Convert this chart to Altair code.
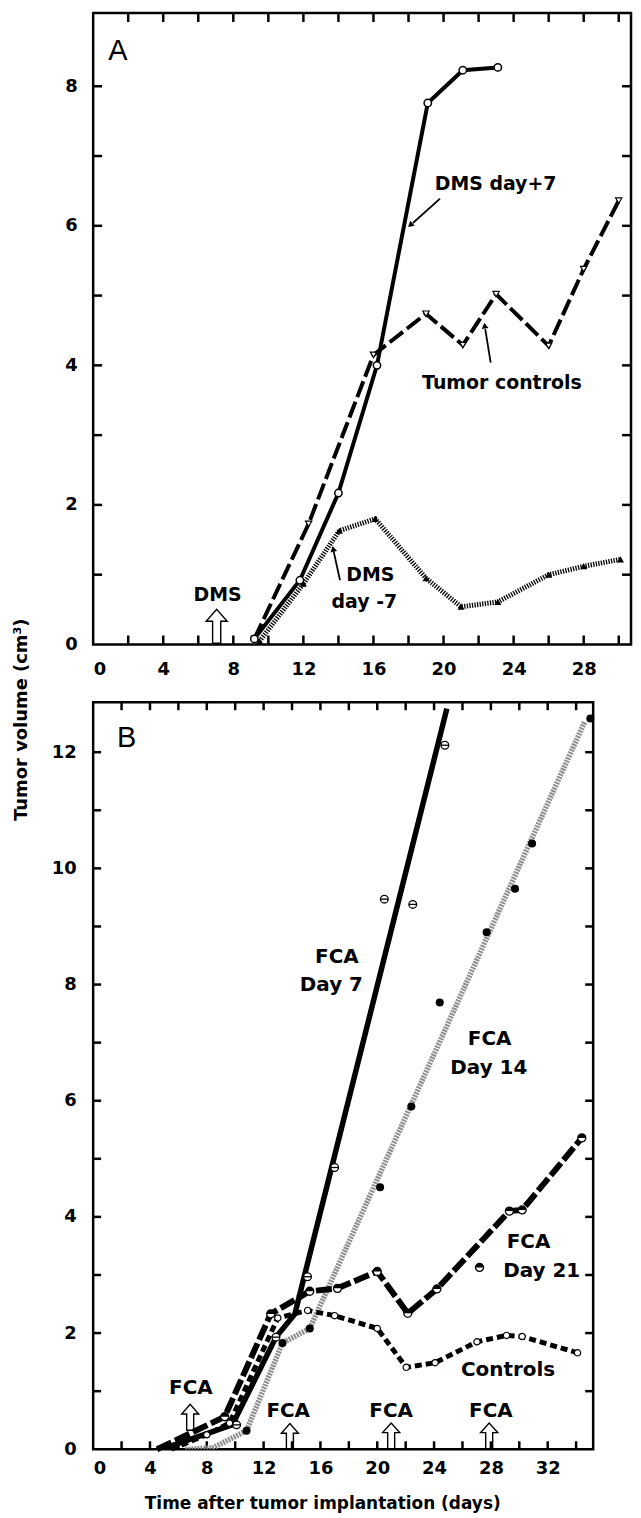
import altair as alt
import pandas as pd

FONT = "DejaVu Sans"
LETTER_FONT = "Liberation Sans"

# ---------------- Panel A : DMS ----------------
a_plus7_day = [9.2, 11.8, 14.0, 16.2, 19.1, 21.1, 23.1]
a_plus7_vol = [0.08, 0.92, 2.17, 4.00, 7.76, 8.23, 8.27]
a_ctrl_day = [9.2, 12.3, 16.0, 19.0, 21.1, 23.0, 26.0, 28.0, 30.0]
a_ctrl_vol = [0.08, 1.73, 4.15, 4.74, 4.29, 5.02, 4.28, 5.38, 6.36]
a_minus7_day = [9.5, 12.0, 14.05, 16.1, 19.0, 21.0, 23.1, 26.0, 28.0, 30.1]
a_minus7_vol = [0.05, 0.87, 1.63, 1.80, 0.95, 0.54, 0.61, 1.00, 1.12, 1.22]

a_xlabels = [0, 4, 8, 12, 16, 20, 24, 28]
a_ylabels = [0, 2, 4, 6, 8]
a_xticks = [2, 4, 6, 8, 10, 12, 14, 16, 18, 20, 22, 24, 26, 28, 30]
a_yticks = [1, 2, 3, 4, 5, 6, 7, 8]
a_xrange = [0, 30.7]
a_yrange = [0, 9.05]

a_notes = ["DMS day+7", "Tumor controls", "DMS", "day -7", "DMS"]
a_notes_day = [22.97, 23.33, 15.82, 15.48, 7.1]
a_notes_vol = [6.6, 3.75, 1.0, 0.61, 0.71]

a_ptr_id = ["p1", "p1", "p2", "p2", "p3", "p3"]
a_ptr_day = [19.8, 18.25, 22.69, 22.38, 14.09, 13.73]
a_ptr_vol = [6.39, 6.04, 4.04, 4.52, 0.92, 1.33]
a_head_day = [18.1, 22.35, 13.7]
a_head_vol = [6.01, 4.57, 1.37]
a_head_angle = [228, 351, 348]

a_dose_day = [7.05]
a_dose_vol = [0.26]

# ---------------- Panel B : FCA ----------------
b_d7_line_day = [4.8, 9.8, 12.87, 14.2, 24.9]
b_d7_line_vol = [0.0, 0.42, 1.93, 2.33, 12.75]
b_d7_day = [10.1, 12.87, 15.09, 17.0, 20.5, 22.5, 24.76]
b_d7_vol = [0.42, 1.93, 2.97, 4.85, 9.47, 9.38, 12.12]

b_d14_line_day = [6.5, 8.4, 10.8, 13.33, 15.25, 34.6]
b_d14_line_vol = [0.0, 0.02, 0.32, 1.83, 2.08, 12.52]
b_d14_day = [10.8, 13.33, 15.25, 20.2, 22.4, 24.4, 27.7, 29.7, 30.9, 35.0]
b_d14_vol = [0.32, 1.83, 2.08, 4.51, 5.90, 7.69, 8.90, 9.65, 10.43, 12.58]

b_d21_day = [4.5, 9.26, 12.5, 15.25, 17.2, 20.0, 22.15, 24.2, 29.3, 30.2, 34.4]
b_d21_vol = [0.0, 0.56, 2.33, 2.72, 2.77, 3.06, 2.34, 2.76, 4.10, 4.12, 5.36]
b_d21_extra_day = [27.2]
b_d21_extra_vol = [3.13]

b_ctrl_day = [5.5, 8.0, 9.6, 13.0, 15.1, 17.0, 20.0, 22.04, 24.07, 27.02, 29.1, 30.2, 34.1]
b_ctrl_vol = [0.0, 0.25, 0.45, 2.26, 2.39, 2.30, 2.08, 1.41, 1.49, 1.85, 1.96, 1.94, 1.66]

b_xlabels = [0, 4, 8, 12, 16, 20, 24, 28, 32]
b_ylabels = [0, 2, 4, 6, 8, 10, 12]
b_xticks = [2, 4, 6, 8, 10, 12, 14, 16, 18, 20, 22, 24, 26, 28, 30, 32, 34]
b_yticks = [1, 2, 3, 4, 5, 6, 7, 8, 9, 10, 11, 12]
b_xrange = [0, 35.2]
b_yrange = [0, 12.86]

b_notes = ["FCA", "Day 7", "FCA", "Day 14", "FCA", "Day 21", "Controls",
           "FCA", "FCA", "FCA", "FCA"]
b_notes_day = [17.16, 16.77, 27.91, 27.85, 30.65, 31.58, 29.21,
               6.88, 13.73, 20.98, 28.0]
b_notes_vol = [8.48, 7.99, 7.07, 6.56, 3.57, 3.06, 1.36,
               1.05, 0.66, 0.66, 0.66]

b_dose_day = [6.83, 13.85, 20.98, 27.88]
b_dose_vol = [0.55, 0.22, 0.23, 0.23]

# ---------------- helpers ----------------
ARROW_A = "M -0.24 1 L -0.24 -0.3 L -0.62 -0.3 L 0 -1 L 0.62 -0.3 L 0.24 -0.3 L 0.24 1 Z"
ARROW_B = "M -0.27 1 L -0.27 -0.25 L -0.66 -0.25 L 0 -1 L 0.66 -0.25 L 0.27 -0.25 L 0.27 1 Z"
HALF_TOP = "M -1 0 A 1 1 0 0 1 1 0 Z"


def df(days, vols, **extra):
    d = {"day": days, "vol": vols}
    d.update(extra)
    return pd.DataFrame(d)


class Panel:
    def __init__(self, xrange, yrange, xaxis, yaxis):
        self.xr, self.yr = xrange, yrange
        self.xs = alt.Scale(domain=xrange, nice=False, zero=False)
        self.ys = alt.Scale(domain=yrange, nice=False, zero=False)
        self.xaxis, self.yaxis = xaxis, yaxis

    def xy(self):
        return dict(x=alt.X("day:Q", scale=self.xs, axis=self.xaxis),
                    y=alt.Y("vol:Q", scale=self.ys, axis=self.yaxis))

    def frame_ticks(self, xticks, yticks, L):
        e = self.xy()
        st = dict(color="black", thickness=2.5, size=L, opacity=1)
        h = L / 2.0
        nx, ny = len(xticks), len(yticks)
        return [
            alt.Chart(df(xticks, [self.yr[0]] * nx)).mark_tick(
                orient="vertical", yOffset=-h, **st).encode(**e),
            alt.Chart(df(xticks, [self.yr[1]] * nx)).mark_tick(
                orient="vertical", yOffset=h, **st).encode(**e),
            alt.Chart(df([self.xr[0]] * ny, yticks)).mark_tick(
                orient="horizontal", xOffset=h, **st).encode(**e),
            alt.Chart(df([self.xr[1]] * ny, yticks)).mark_tick(
                orient="horizontal", xOffset=-h, **st).encode(**e),
        ]


# ---------------- Panel A chart ----------------
WA, HA = 540, 634
pa = Panel(
    a_xrange, a_yrange,
    alt.Axis(values=a_xlabels, title="", labelPadding=16, labelFontSize=18),
    alt.Axis(values=a_ylabels, title="", labelPadding=16, labelFontSize=18),
)
ea = pa.xy()
a_layers = pa.frame_ticks(a_xticks, a_yticks, 9)
a_layers += [
    alt.Chart(df(a_ctrl_day, a_ctrl_vol)).mark_line(
        color="black", strokeWidth=4, strokeDash=[17, 5]).encode(**ea),
    alt.Chart(df(a_plus7_day, a_plus7_vol)).mark_line(
        color="black", strokeWidth=4).encode(**ea),
    alt.Chart(df(a_minus7_day, a_minus7_vol)).mark_line(
        color="black", strokeWidth=5, strokeDash=[1.3, 1.3]).encode(**ea),
    alt.Chart(df(a_ctrl_day, a_ctrl_vol)).mark_point(
        shape="triangle-down", filled=True, fill="white", stroke="black",
        strokeWidth=1.2, size=40, opacity=1).encode(**ea),
    alt.Chart(df(a_plus7_day, a_plus7_vol)).mark_point(
        shape="circle", filled=True, fill="white", stroke="black",
        strokeWidth=1.5, size=55, opacity=1).encode(**ea),
    alt.Chart(df(a_minus7_day, a_minus7_vol)).mark_point(
        shape="triangle-up", filled=True, fill="black", size=50, opacity=1).encode(**ea),
    alt.Chart(df(a_ptr_day, a_ptr_vol, id=a_ptr_id)).mark_line(
        color="black", strokeWidth=1.8).encode(detail="id:N", **ea),
    alt.Chart(df(a_head_day, a_head_vol, ang=a_head_angle)).mark_point(
        shape="triangle-up", filled=True, fill="black", size=45, opacity=1).encode(
        angle=alt.Angle("ang:Q", scale=None), **ea),
    alt.Chart(df(a_dose_day, a_dose_vol)).mark_point(
        shape=ARROW_A, filled=False, color="black", strokeWidth=1.4, size=1156,
        opacity=1).encode(**ea),
    alt.Chart(df(a_notes_day, a_notes_vol, label=a_notes)).mark_text(
        font=FONT, fontWeight="bold", fontSize=19, color="black",
        align="center", baseline="middle").encode(text="label:N", **ea),
    alt.Chart(df([1.41], [8.51], label=["A"])).mark_text(
        font=LETTER_FONT, fontSize=29, color="black",
        align="center", baseline="middle").encode(text="label:N", **ea),
]
panel_a = alt.layer(*a_layers).properties(width=WA, height=HA)

# ---------------- Panel B chart ----------------
WB, HB = 502, 750
pb = Panel(
    b_xrange, b_yrange,
    alt.Axis(values=b_xlabels, title="Time after tumor implantation (days)",
             labelPadding=10, labelFontSize=18,
             titleX=230, titleY=54, titleAlign="center", titleBaseline="middle",
             titleFont=FONT, titleFontSize=17, titleFontWeight="bold"),
    alt.Axis(values=b_ylabels, title="Tumor volume (cm³)",
             labelPadding=17, labelFontSize=18,
             titleX=-72, titleY=17, titleAngle=270, titleAlign="center",
             titleBaseline="middle", titleFont=FONT, titleFontSize=18,
             titleFontWeight="bold"),
)
eb = pb.xy()
b_d21_mark_day = b_d21_day[1:] + b_d21_extra_day
b_d21_mark_vol = b_d21_vol[1:] + b_d21_extra_vol
b_layers = pb.frame_ticks(b_xticks, b_yticks, 8)
b_layers += [
    alt.Chart(df(b_d14_line_day, b_d14_line_vol)).mark_line(
        color="#8f8f8f", strokeWidth=5.5, strokeDash=[2, 1], clip=True).encode(**eb),
    alt.Chart(df(b_ctrl_day, b_ctrl_vol)).mark_line(
        color="black", strokeWidth=5, strokeDash=[7, 4]).encode(**eb),
    alt.Chart(df(b_d21_day, b_d21_vol)).mark_line(
        color="black", strokeWidth=6, strokeDash=[16, 4]).encode(**eb),
    alt.Chart(df(b_d7_line_day, b_d7_line_vol)).mark_line(
        color="black", strokeWidth=5.5, clip=True).encode(**eb),
    alt.Chart(df(b_ctrl_day[1:], b_ctrl_vol[1:])).mark_point(
        shape="circle", filled=True, fill="white", stroke="black",
        strokeWidth=1.2, size=40, opacity=1).encode(**eb),
    alt.Chart(df(b_d14_day, b_d14_vol)).mark_point(
        shape="circle", filled=True, fill="black", size=65, opacity=1).encode(**eb),
    alt.Chart(df(b_d21_mark_day, b_d21_mark_vol)).mark_point(
        shape="circle", filled=True, fill="white", stroke="black",
        strokeWidth=1.3, size=65, opacity=1).encode(**eb),
    alt.Chart(df(b_d21_mark_day, b_d21_mark_vol)).mark_point(
        shape=HALF_TOP, filled=True, fill="black", size=65, opacity=1).encode(**eb),
    alt.Chart(df(b_d7_day, b_d7_vol)).mark_point(
        shape="circle", filled=True, fill="white", stroke="black",
        strokeWidth=1.3, size=60, opacity=1).encode(**eb),
    alt.Chart(df(b_d7_day, b_d7_vol)).mark_point(
        shape="stroke", color="black", strokeWidth=1.3, size=60, opacity=1).encode(**eb),
    alt.Chart(df(b_dose_day, b_dose_vol)).mark_point(
        shape=ARROW_B, filled=False, color="black", strokeWidth=1.4, size=676,
        opacity=1).encode(**eb),
    alt.Chart(df(b_notes_day, b_notes_vol, label=b_notes)).mark_text(
        font=FONT, fontWeight="bold", fontSize=20, color="black",
        align="center", baseline="middle").encode(text="label:N", **eb),
    alt.Chart(df([2.36], [12.25], label=["B"])).mark_text(
        font=LETTER_FONT, fontSize=29, color="black",
        align="center", baseline="middle").encode(text="label:N", **eb),
]
panel_b = alt.layer(*b_layers).properties(width=WB, height=HB)

chart = alt.vconcat(panel_a, panel_b, spacing=58, bounds="flush").properties(
    padding={"left": 2.5, "top": 0, "right": 0, "bottom": 0}
).configure(font=FONT).configure_view(
    stroke="black", strokeWidth=2.5
).configure_axis(
    labelFont=FONT, labelFontWeight="bold", labelColor="black",
    ticks=False, tickSize=0, domain=False, grid=False, titleColor="black"
)

chart.save("out.html", embed_options={"renderer": "svg", "actions": False})
